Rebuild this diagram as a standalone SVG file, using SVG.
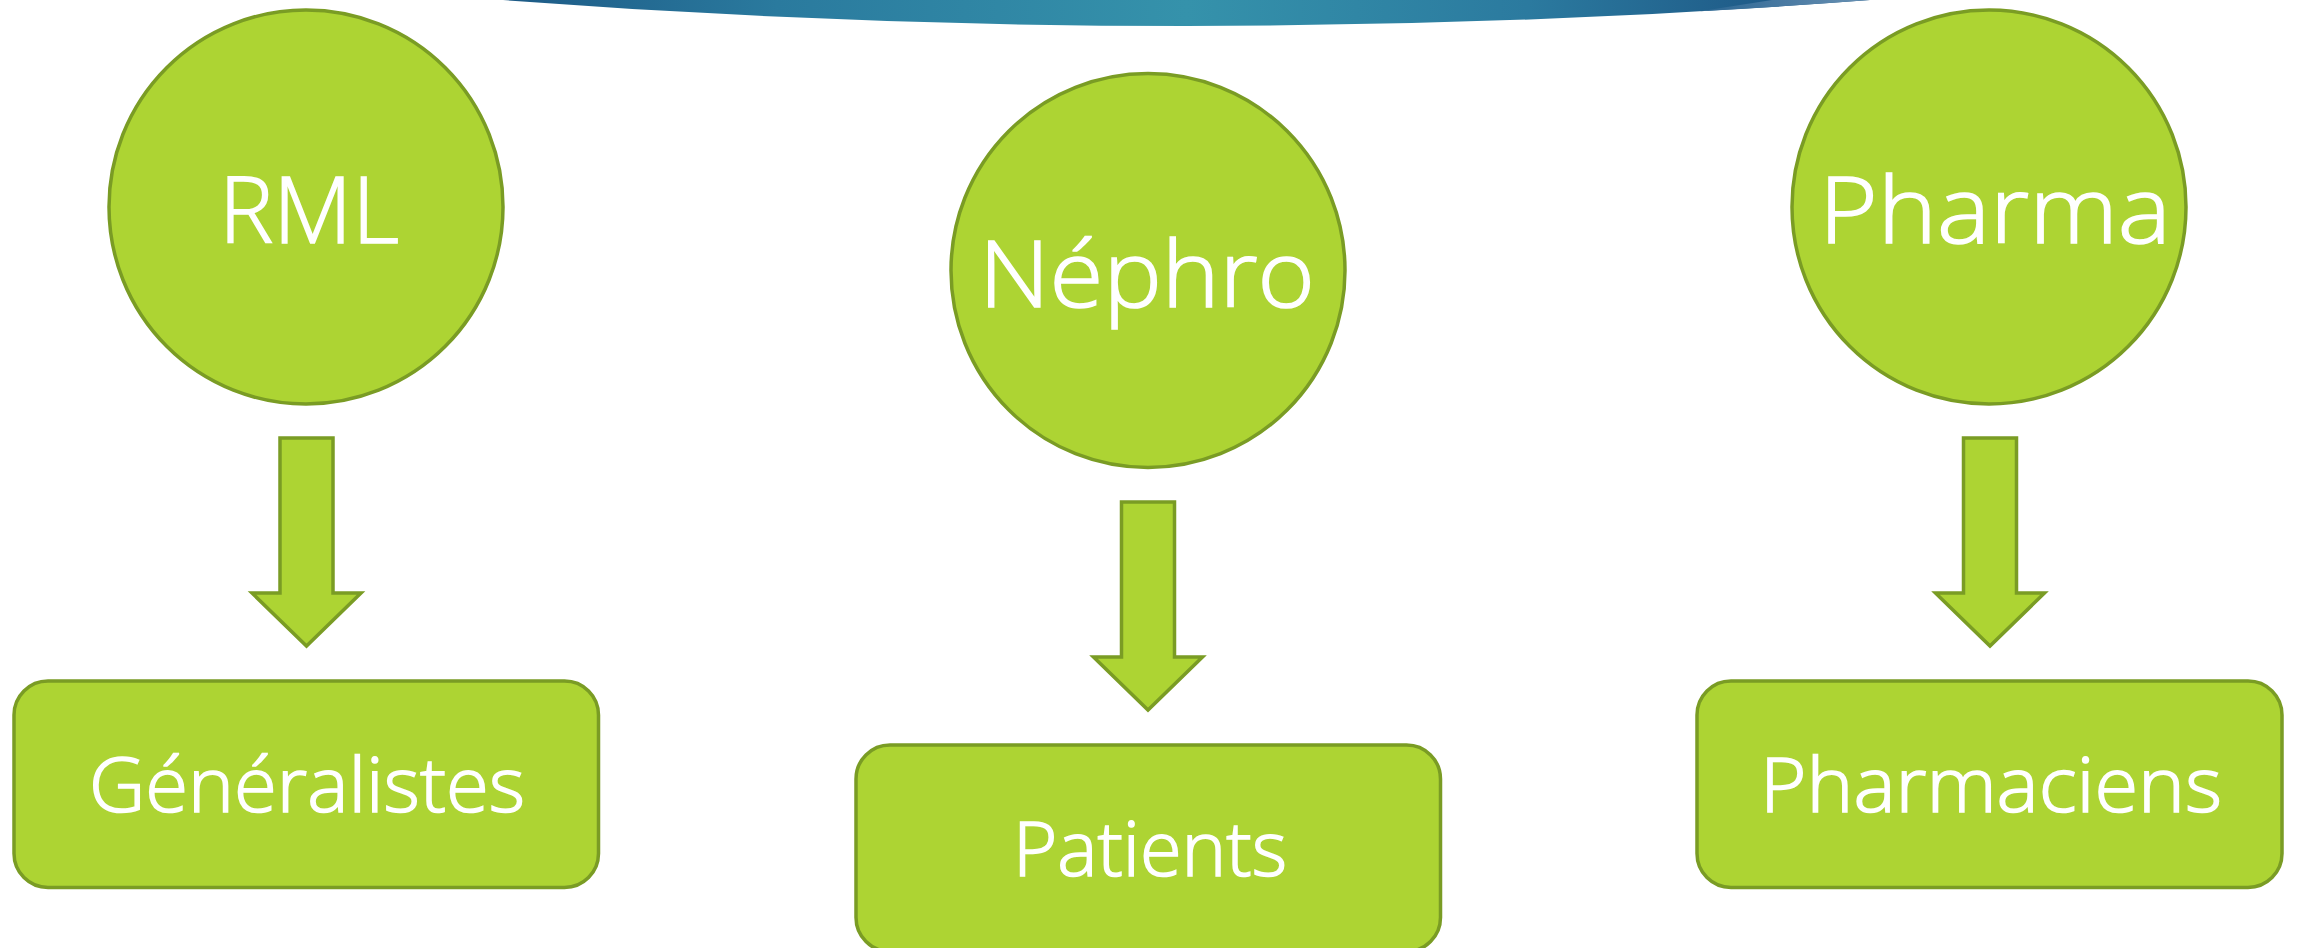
<svg xmlns="http://www.w3.org/2000/svg" width="2298" height="948" viewBox="0 0 2298 948">
  <defs>
    <linearGradient id="band" gradientUnits="userSpaceOnUse" x1="503" y1="0" x2="1870" y2="0">
      <stop offset="0" stop-color="#1d5a86"/>
      <stop offset="0.2" stop-color="#2a7a9e"/>
      <stop offset="0.5" stop-color="#3592ab"/>
      <stop offset="0.75" stop-color="#2b7a9f"/>
      <stop offset="0.92" stop-color="#1f5b88"/>
      <stop offset="1" stop-color="#1e5785"/>
    </linearGradient>
    <linearGradient id="wedge" gradientUnits="userSpaceOnUse" x1="1700" y1="0" x2="1870" y2="0">
      <stop offset="0" stop-color="#2a6692"/>
      <stop offset="0.5" stop-color="#4a7aa2"/>
      <stop offset="1" stop-color="#6a92b4"/>
    </linearGradient>
    <style>
      .shape { fill: #add433; stroke: #7a9c24; stroke-width: 3.5; }
      .lbl { fill: #ffffff; stroke: #ffffff; stroke-width: 1.6; font-family: "Open Sans", "Liberation Sans", sans-serif; font-weight: 300; text-anchor: middle; }
      .big { font-size: 93px; }
      .mid { font-size: 75px; }
    </style>
  </defs>

  <rect width="2298" height="948" fill="#ffffff"/>

  <g id="banner">
    <path d="M503,0 Q1186,52 1870,0 Z" fill="url(#band)"/>
    <path d="M1700,11.3 L1772,0 L1870,0 Q1785,6.46 1700,11.3 Z" fill="url(#wedge)"/>
  </g>

  <g id="connectors">
    <path class="shape" d="M280,438 H333 V593 H361 L306.5,646 L252,593 H280 Z"/>
    <path class="shape" d="M1121.5,502 H1174.5 V657 H1202.5 L1148,710 L1093.5,657 H1121.5 Z"/>
    <path class="shape" d="M1963.5,438 H2016.5 V593 H2044.5 L1990,646 L1935.5,593 H1963.5 Z"/>
  </g>

  <g id="node-rml">
    <circle class="shape" cx="306" cy="207" r="197"/>
    <text class="lbl big" x="309" y="243" textLength="180" lengthAdjust="spacingAndGlyphs">RML</text>
  </g>

  <g id="node-nephro">
    <circle class="shape" cx="1148" cy="270.5" r="197"/>
    <text class="lbl big" x="1147" y="306.5" textLength="336" lengthAdjust="spacingAndGlyphs">Néphro</text>
  </g>

  <g id="node-pharma">
    <circle class="shape" cx="1989" cy="207" r="197"/>
    <text class="lbl big" x="1995" y="243" textLength="352" lengthAdjust="spacingAndGlyphs">Pharma</text>
  </g>

  <g id="node-generalistes">
    <rect class="shape" x="14" y="681" width="584.5" height="206.5" rx="34" ry="34"/>
    <text class="lbl mid" x="307" y="812" textLength="436" lengthAdjust="spacingAndGlyphs">Généralistes</text>
  </g>

  <g id="node-patients">
    <rect class="shape" x="856" y="745" width="584.5" height="206.5" rx="34" ry="34"/>
    <text class="lbl mid" x="1150" y="875.5" textLength="274" lengthAdjust="spacingAndGlyphs">Patients</text>
  </g>

  <g id="node-pharmaciens">
    <rect class="shape" x="1697" y="681" width="585" height="206.5" rx="34" ry="34"/>
    <text class="lbl mid" x="1991" y="812" textLength="462" lengthAdjust="spacingAndGlyphs">Pharmaciens</text>
  </g>
</svg>
